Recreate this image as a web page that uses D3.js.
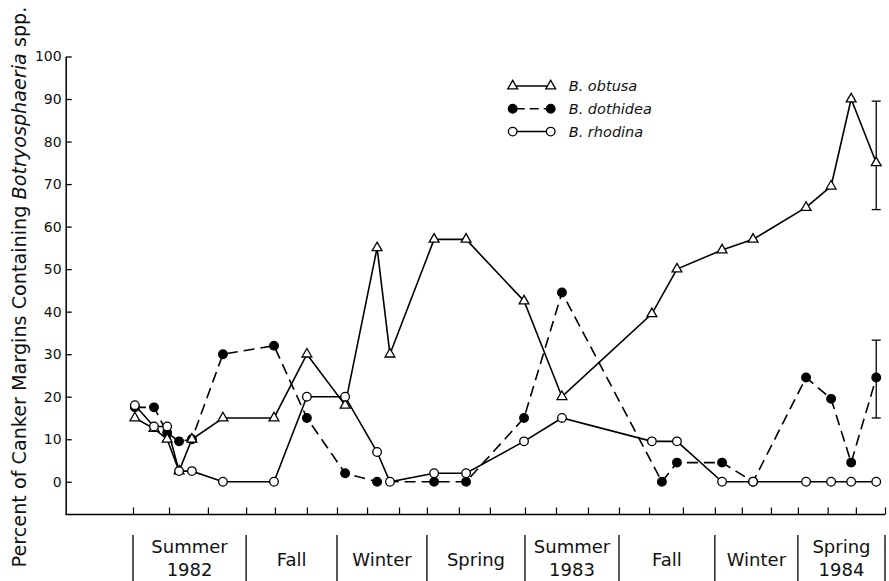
<!DOCTYPE html>
<html>
<head>
<meta charset="utf-8">
<script src="https://cdn.jsdelivr.net/npm/d3@7"></script>
<style>
body { margin: 0; background: #fff; }
svg { display: block; font-family: "DejaVu Sans", sans-serif; }
</style>
</head>
<body>
<div id="chart"></div>
<script>
// months since start of Summer 1982 (sampling dates)
var sampleMonth = [0.06, 0.67, 1.09, 1.47, 1.88, 2.87, 4.50, 5.55, 6.77, 7.79, 8.20, 9.61,
    10.63, 12.48, 13.69, 16.56, 17.36, 18.80, 19.79, 21.48, 22.28, 22.92, 23.72];
var obtusa  = [15, 12.5, 10, 2.5, 10, 15, 15, 30, 18, 55, 30, 57,
    57, 42.5, 20, 39.5, 50, 54.5, 57, 64.5, 69.5, 90, 75];
var rhodina = [18, 13, 13, 2.5, 2.5, 0, 0, 20, 20, 7, 0, 2,
    2, 9.5, 15, 9.5, 9.5, 0, 0, 0, 0, 0, 0];

var dothideaMonth = [0.06, 0.67, 1.09, 1.47, 1.88, 2.87, 4.50, 5.55, 6.77, 7.79, 9.61,
    10.63, 12.48, 13.69, 16.88, 17.36, 18.80, 19.79, 21.48, 22.28, 22.92, 23.72];
var dothidea = [17.5, 17.5, 11.5, 9.5, 10, 30, 32, 15, 2, 0, 0,
    0, 15, 44.5, 0, 4.5, 4.5, 0, 24.5, 19.5, 4.5, 24.5];

// error bars on last sample
var obtusaErr   = [64, 89.5];
var dothideaErr = [15, 33.3];

var yTicks = [0, 10, 20, 30, 40, 50, 60, 70, 80, 90, 100];
var monthTicks = [0, 1.15, 2.39, 3.61, 4.53, 5.55, 6.51, 7.47, 8.49, 9.38, 10.40, 11.39,
    12.51, 13.50, 14.52, 15.51, 16.47, 17.55, 18.57, 19.43, 20.36, 21.22, 22.17, 23.07, 24];
var seasonEdges = [0, 3.61, 6.51, 9.38, 12.51, 15.51, 18.57, 21.22, 24];
var seasonLabels = [["Summer", "1982"], ["Fall"], ["Winter"], ["Spring"],
    ["Summer", "1983"], ["Fall"], ["Winter"], ["Spring", "1984"]];

var legendNames = ["B. obtusa", "B. dothidea", "B. rhodina"];

var svg = d3.select("#chart")
    .append("svg")
    .attr("width", 889)
    .attr("height", 581);

var x = d3.scaleLinear().domain([0, 24]).range([133, 885]);
var y = d3.scaleLinear().domain([-7.7, 100]).range([514.5, 56.5]);
var axisX = 65.7;

// y axis
var yAxis = svg.append("g")
    .attr("transform", "translate(" + axisX + ",0)")
    .call(d3.axisLeft(y).tickValues(yTicks).tickSize(-6).tickSizeOuter(0).tickPadding(4));
yAxis.select(".domain").attr("stroke-width", 1.5);
yAxis.selectAll(".tick line").attr("stroke-width", 1.3);
yAxis.selectAll(".tick text")
    .attr("font-size", 14)
    .attr("font-family", "DejaVu Sans")
    .attr("fill", "#111");

// x axis
svg.append("line")
    .attr("x1", axisX).attr("x2", x(24))
    .attr("y1", y(-7.7)).attr("y2", y(-7.7))
    .attr("stroke", "#000").attr("stroke-width", 1.5);
var xAxis = svg.append("g")
    .attr("transform", "translate(0," + y(-7.7) + ")")
    .call(d3.axisBottom(x).tickValues(monthTicks).tickSize(-7).tickSizeOuter(0).tickFormat(""));
xAxis.select(".domain").remove();
xAxis.selectAll(".tick line").attr("stroke-width", 1.2);

// season band
svg.selectAll("line.season")
    .data(seasonEdges)
    .enter()
    .append("line")
    .attr("class", "season")
    .attr("x1", function(d){return x(d)})
    .attr("x2", function(d){return x(d)})
    .attr("y1", 535)
    .attr("y2", 581)
    .attr("stroke", "#000")
    .attr("stroke-width", 1.3);

var seasonText = svg.selectAll("text.season")
    .data(seasonLabels)
    .enter()
    .append("text")
    .attr("class", "season")
    .attr("text-anchor", "middle")
    .attr("font-size", 18)
    .attr("fill", "#111")
    .attr("transform", function(d, i){
        var cx = (x(seasonEdges[i]) + x(seasonEdges[i + 1])) / 2;
        return "translate(" + cx + "," + (d.length > 1 ? 553 : 565.5) + ")";
    });
seasonText.selectAll("tspan")
    .data(function(d){return d})
    .enter()
    .append("tspan")
    .attr("x", 0)
    .attr("y", function(d, i){return i * 22.5})
    .text(function(d){return d});

// y axis title
var title = svg.append("text")
    .attr("transform", "translate(25.5,287) rotate(-90)")
    .attr("text-anchor", "middle")
    .attr("font-size", 19.2)
    .attr("fill", "#111");
title.append("tspan").text("Percent of Canker Margins Containing ");
title.append("tspan").attr("font-style", "italic").text("Botryosphaeria");
title.append("tspan").text(" spp.");

function points(months, vals) {
    return months.map(function(m, i){return {m: m, v: vals[i]}});
}

var line = d3.line()
    .x(function(d){return x(d.m)})
    .y(function(d){return y(d.v)});

var dData = points(dothideaMonth, dothidea);
var oData = points(sampleMonth, obtusa);
var rData = points(sampleMonth, rhodina);

// error bars
var lastM = sampleMonth[sampleMonth.length - 1];
[obtusaErr, dothideaErr].forEach(function(e){
    var g = svg.append("g").attr("stroke", "#000").attr("stroke-width", 1.3);
    g.append("line")
        .attr("x1", x(lastM)).attr("x2", x(lastM))
        .attr("y1", y(e[0])).attr("y2", y(e[1]));
    e.forEach(function(v){
        g.append("line")
            .attr("x1", x(lastM) - 4.5).attr("x2", x(lastM) + 4.5)
            .attr("y1", y(v)).attr("y2", y(v));
    });
});

// lines
svg.append("path")
    .attr("d", line(dData))
    .attr("fill", "none").attr("stroke", "#000").attr("stroke-width", 1.6)
    .attr("stroke-dasharray", "11,6");
svg.append("path")
    .attr("d", line(oData))
    .attr("fill", "none").attr("stroke", "#000").attr("stroke-width", 1.6);
svg.append("path")
    .attr("d", line(rData))
    .attr("fill", "none").attr("stroke", "#000").attr("stroke-width", 1.6);

var tri = d3.symbol().type(d3.symbolTriangle).size(42);

function drawDots(data, filled) {
    svg.append("g")
        .selectAll("circle")
        .data(data)
        .enter()
        .append("circle")
        .attr("cx", function(d){return x(d.m)})
        .attr("cy", function(d){return y(d.v)})
        .attr("r", 4.3)
        .attr("fill", filled ? "#000" : "#fff")
        .attr("stroke", "#000")
        .attr("stroke-width", 1.3);
}

drawDots(dData, true);
svg.append("g")
    .selectAll("path")
    .data(oData)
    .enter()
    .append("path")
    .attr("d", tri)
    .attr("transform", function(d){return "translate(" + x(d.m) + "," + y(d.v) + ")"})
    .attr("fill", "#fff")
    .attr("stroke", "#000")
    .attr("stroke-width", 1.3);
drawDots(rData, false);

// legend
var legend = svg.append("g").attr("transform", "translate(512.7,86)");
legendNames.forEach(function(name, i){
    var row = legend.append("g").attr("transform", "translate(0," + (i * 22.8) + ")");
    row.append("line")
        .attr("x1", 0).attr("x2", 38)
        .attr("stroke", "#000").attr("stroke-width", 1.5)
        .attr("stroke-dasharray", i == 1 ? "9,5" : null)
        .attr("stroke-dashoffset", i == 1 ? -3 : null);
    [0, 38].forEach(function(px){
        if (i == 0) {
            row.append("path").attr("d", tri).attr("transform", "translate(" + px + ",0)")
                .attr("fill", "#fff").attr("stroke", "#000").attr("stroke-width", 1.3);
        } else {
            row.append("circle").attr("cx", px).attr("r", 4.3)
                .attr("fill", i == 1 ? "#000" : "#fff")
                .attr("stroke", "#000").attr("stroke-width", 1.3);
        }
    });
    row.append("text")
        .attr("x", 56)
        .attr("dy", "0.36em")
        .attr("font-size", 14.5)
        .attr("font-style", "italic")
        .attr("fill", "#111")
        .text(name);
});
</script>
</body>
</html>
